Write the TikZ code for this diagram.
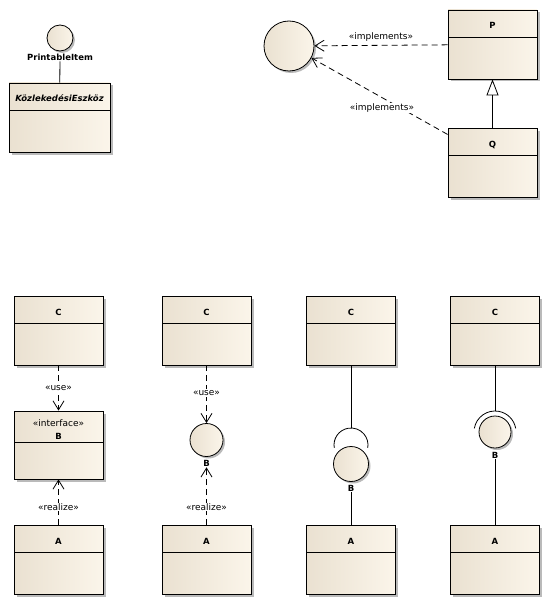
\documentclass[tikz,border=0pt]{standalone}
\usepackage{fontspec}
\setmainfont{DejaVu Sans}
\usetikzlibrary{arrows.meta,shadows}

\definecolor{clsleft}{RGB}{234,225,209}
\definecolor{clsright}{RGB}{251,245,234}

\tikzset{
    hdr/.store in=\clshdr, hdr=27pt,
    cls/.style={draw, line width=0.8pt, left color=clsleft, right color=clsright,
        drop shadow={shadow xshift=2.5pt, shadow yshift=-2.5pt, fill=black!45, opacity=0.6},
        minimum width=89pt, minimum height=69pt, inner sep=0pt,
        text height=19pt, text depth=50pt, hdr=27pt,
        font=\bfseries\fontsize{8.5}{10}\selectfont,
        path picture={\draw[line width=0.8pt]
            ([yshift=-\clshdr]path picture bounding box.north west) --
            ([yshift=-\clshdr]path picture bounding box.north east);}},
    ball/.style={circle, draw, line width=0.8pt, left color=clsleft, right color=clsright,
        drop shadow={shadow xshift=2pt, shadow yshift=-2pt, fill=black!45, opacity=0.6},
        minimum size=33pt, inner sep=0pt},
    lbl/.style={font=\bfseries\fontsize{8.5}{10}\selectfont, inner sep=1pt},
    stereo/.style={font=\fontsize{9}{11}\selectfont, fill=white, inner sep=1pt},
    wire/.style={line width=0.8pt},
    dep/.style={line width=0.8pt, dash pattern=on 6pt off 4pt,
        -{Straight Barb[length=9pt, width=11pt, line width=0.8pt]}},
    gen/.style={line width=0.8pt, -{Triangle[open, fill=white, length=16pt, width=12pt, line width=0.8pt]}}
}

\begin{document}
\begin{tikzpicture}[x=1pt, y=-1pt]
    \useasboundingbox (0,0) rectangle (544,607);
%%   kw   (name)   (x, y)   {text}
    \node[ball, minimum size=26pt] (pitem) at (60,38) {};
    \node[lbl] (pitemname) at (60,57) {PrintableItem};
    \node[cls, minimum width=101pt, font=\bfseries\itshape\fontsize{8.5}{10}\selectfont] (kozl) at (59.5,117.5) {KözlekedésiEszköz};

    \node[ball, minimum size=50pt] (ifc) at (289,46) {};
    \node[cls] (p) at (492.5,44.5) {P};
    \node[cls] (q) at (492.5,162.5) {Q};

    \node[cls] (c1) at (58.5,330.5) {C};
    \node[cls, hdr=31pt, align=center, text height=28pt, text depth=40pt, minimum height=68pt] (b1) at (58.5,445)
        {{\mdseries\fontsize{9}{11}\selectfont «interface»}\\[3pt]B};
    \node[cls] (a1) at (58.5,560) {A};

    \node[cls] (c2) at (206.5,330.5) {C};
    \node[ball] (b2) at (206.5,440) {};
    \node[lbl] (b2name) at (206.5,463) {B};
    \node[cls] (a2) at (206.5,560) {A};

    \node[cls] (c3) at (351,330.5) {C};
    \coordinate (sock3) at (351,445);
    \node[ball, minimum size=35pt] (b3) at (351,464) {};
    \node[lbl] (b3name) at (351,488) {B};
    \node[cls] (a3) at (351,560) {A};

    \node[cls] (c4) at (495,330.5) {C};
    \node[ball, minimum size=32pt] (b4) at (495,432) {};
    \node[lbl] (b4name) at (495,455) {B};
    \node[cls] (a4) at (495,560) {A};

    \draw[wire] (pitemname) -- (kozl);
    \draw[dep] (p) -- (ifc);
    \draw[dep] (q.148) -- (ifc.-28);
    \draw[gen] (q) -- (p);

    \draw[dep] (c1) -- (b1);
    \draw[dep] (a1) -- (b1);
    \draw[dep] (c2) -- (b2);
    \draw[dep] (a2) -- (b2name);

    \draw[wire] (c3) -- ([yshift=17pt]sock3);
    \draw[wire] ([shift={(190:17pt)}]sock3) arc[start angle=190, end angle=-10, radius=17pt];
    \draw[wire] (b3name) -- (a3);
    \draw[wire] (c4) -- ([yshift=21pt]b4.center);
    \draw[wire] ([shift={(170:21pt)}]b4.center) arc[start angle=170, end angle=10, radius=21pt];
    \draw[wire] (b4name) -- (a4);

    \node[stereo] (impl1) at (381,37) {«implements»};
    \node[stereo] (impl2) at (382,108) {«implements»};
    \node[stereo] (use1) at (58.5,388) {«use»};
    \node[stereo] (real1) at (58.5,507) {«realize»};
    \node[stereo] (use2) at (206.5,393) {«use»};
    \node[stereo] (real2) at (206.5,507) {«realize»};
\end{tikzpicture}
\end{document}
